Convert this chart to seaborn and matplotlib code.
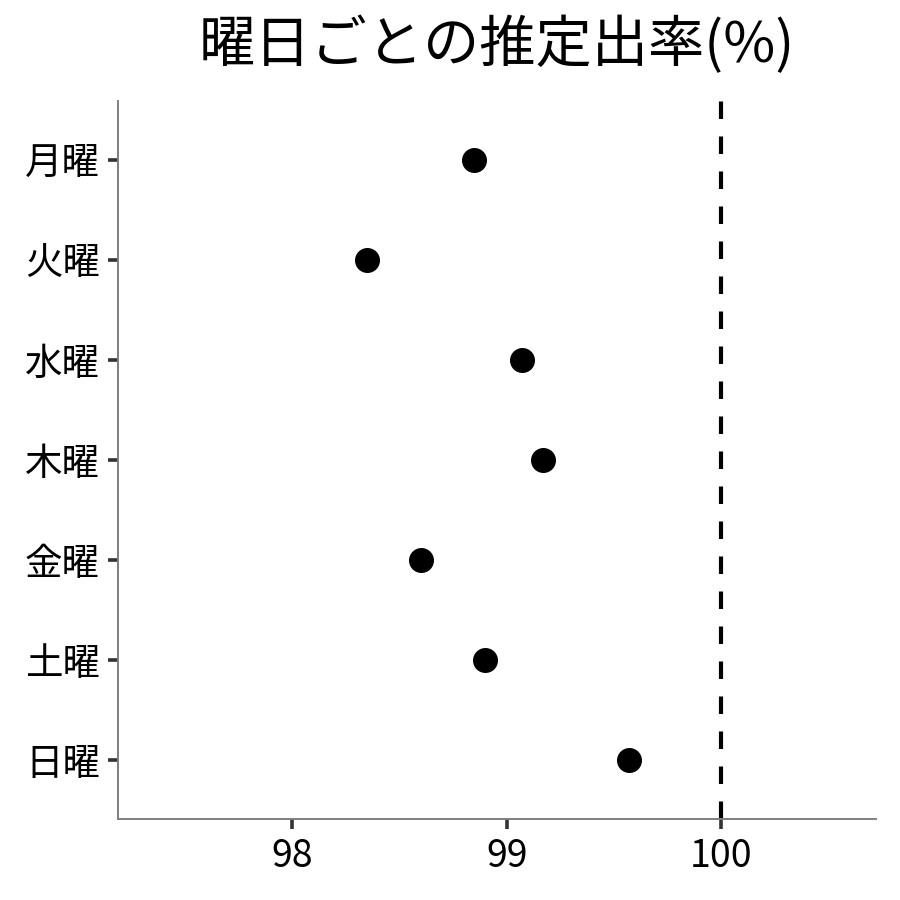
import matplotlib
matplotlib.use('Agg')
import matplotlib.pyplot as plt
import seaborn as sns
import pandas as pd

# data
days = ['月曜', '火曜', '水曜', '木曜', '金曜', '土曜', '日曜']
rates = [98.85, 98.35, 99.07, 99.17, 98.60, 98.90, 99.57]
ref_line = 100
xticks = [98, 99, 100]

sns.set_style('white')
plt.rcParams['font.family'] = ['Noto Sans CJK JP', 'DejaVu Sans']
plt.rcParams['text.color'] = 'black'
plt.rcParams['xtick.labelcolor'] = 'black'
plt.rcParams['ytick.labelcolor'] = 'black'

df = pd.DataFrame({'day': days, 'rate': rates})

fig = plt.figure(figsize=(9, 9), dpi=100)
ax = fig.add_axes([118/900, 81/900, 758/900, 718/900])

sns.stripplot(data=df, x='rate', y='day', order=days, jitter=False,
              color='black', size=18, ax=ax)
ax.axvline(ref_line, color='black', lw=3, linestyle=(0, (4.2, 4.2)))

ax.set_xlim(97.19, 100.72)
ax.set_ylim(6.59, -0.59)
ax.set_xticks(xticks)
ax.set_xticklabels([str(t) for t in xticks])
ax.set_xlabel('')
ax.set_ylabel('')

for s in ['top', 'right']:
    ax.spines[s].set_visible(False)
for s in ['left', 'bottom']:
    ax.spines[s].set_color('#7f7f7f')
    ax.spines[s].set_linewidth(1.4)

ax.tick_params(axis='both', which='both', direction='out', length=7, width=2.6,
               color='#333333', labelcolor='black', labelsize=27, pad=6,
               left=True, bottom=True)

fig.suptitle('曜日ごとの推定出率(%)', fontsize=40.5, color='black',
             x=497/900, y=0.981, va='top')

fig.savefig('out.png', dpi=100)
